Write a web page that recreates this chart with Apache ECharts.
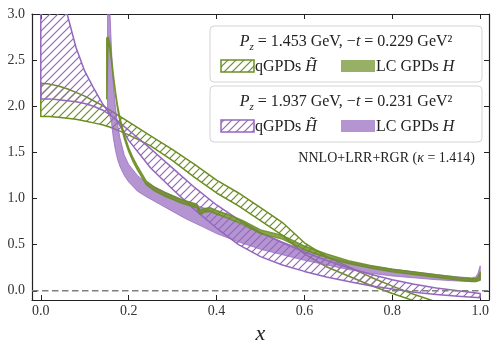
<!DOCTYPE html>
<html>
<head>
<meta charset="utf-8">
<script src="https://cdn.jsdelivr.net/npm/echarts@6/dist/echarts.min.js"></script>
<style>
  html, body { margin: 0; padding: 0; background: #fff; }
  #chart { width: 499px; height: 352px; }
</style>
</head>
<body>
<div id="chart"></div>
<script>
// ticks
const xTicks = [0, 0.2, 0.4, 0.6, 0.8, 1.0]
const yTicks = [0, 0.5, 1.0, 1.5, 2.0, 2.5, 3.0]

// qGPDs Htilde, x grid shared by both momenta
const qX = [0, 0.02, 0.04, 0.06, 0.08, 0.1, 0.12, 0.14, 0.16, 0.17, 0.18, 0.2, 0.25, 0.3, 0.35, 0.4, 0.45, 0.5, 0.55, 0.6, 0.65, 0.7, 0.75, 0.8, 0.85, 0.9, 0.95, 1.0]
// Pz = 1.453 GeV
const qGreenHi = [2.25, 2.24, 2.22, 2.19, 2.15, 2.11, 2.06, 2.01, 1.95, 1.92, 1.89, 1.83, 1.68, 1.53, 1.37, 1.20, 1.06, 0.90, 0.74, 0.52, 0.37, 0.26, 0.15, 0.05, -0.04, -0.12, -0.18, -0.24]
const qGreenLo = [1.89, 1.89, 1.88, 1.87, 1.86, 1.84, 1.82, 1.80, 1.77, 1.75, 1.73, 1.69, 1.57, 1.41, 1.23, 1.06, 0.92, 0.76, 0.60, 0.40, 0.26, 0.16, 0.06, -0.03, -0.11, -0.18, -0.24, -0.30]
// Pz = 1.937 GeV
const qPurpleA = [5.0, 4.1, 3.5, 3.0, 2.64, 2.38, 2.2, 2.03, 1.90, 1.86, 1.79, 1.63, 1.33, 1.10, 0.88, 0.68, 0.50, 0.37, 0.28, 0.21, 0.15, 0.10, 0.055, 0.02, -0.015, -0.04, -0.06, -0.075]
const qPurpleB = [2.08, 2.08, 2.07, 2.06, 2.05, 2.03, 2.0, 1.96, 1.90, 1.86, 1.82, 1.74, 1.54, 1.33, 1.12, 0.93, 0.77, 0.63, 0.52, 0.42, 0.33, 0.25, 0.18, 0.12, 0.07, 0.03, 0.0, -0.03]

// LC GPDs H, Pz = 1.453 GeV
const lcGreenX = [0.150, 0.153, 0.157, 0.161, 0.165, 0.17, 0.175, 0.18, 0.19, 0.2, 0.21, 0.22, 0.24, 0.26, 0.28, 0.3, 0.32, 0.34, 0.355, 0.362, 0.37, 0.385, 0.4, 0.43, 0.46, 0.5, 0.55, 0.6, 0.65, 0.7, 0.75, 0.8, 0.85, 0.9, 0.95, 0.98, 0.99, 0.995, 1.0]
const lcGreenLo = [2.08, 2.69, 2.63, 2.48, 2.31, 2.12, 1.96, 1.84, 1.65, 1.51, 1.40, 1.31, 1.15, 1.08, 1.03, 0.99, 0.95, 0.92, 0.90, 0.83, 0.85, 0.86, 0.83, 0.78, 0.72, 0.62, 0.56, 0.445, 0.36, 0.295, 0.245, 0.205, 0.175, 0.145, 0.115, 0.10, 0.10, 0.11, 0.12]
const lcGreenHi = [2.74, 2.75, 2.69, 2.52, 2.35, 2.16, 2.00, 1.88, 1.69, 1.55, 1.44, 1.35, 1.19, 1.12, 1.07, 1.03, 0.99, 0.96, 0.94, 0.87, 0.89, 0.90, 0.87, 0.82, 0.76, 0.66, 0.60, 0.485, 0.40, 0.325, 0.275, 0.235, 0.205, 0.175, 0.145, 0.13, 0.13, 0.15, 0.20]

// LC GPDs H, Pz = 1.937 GeV
const lcPurpleX = [0.152, 0.155, 0.158, 0.161, 0.165, 0.17, 0.175, 0.18, 0.19, 0.2, 0.22, 0.24, 0.27, 0.3, 0.33, 0.37, 0.4, 0.45, 0.5, 0.55, 0.6, 0.65, 0.7, 0.75, 0.8, 0.85, 0.9, 0.95, 0.98, 0.99, 0.995, 1.0]
const lcPurpleHi = [4.5, 3.4, 2.95, 2.6, 2.25, 1.98, 1.80, 1.66, 1.47, 1.37, 1.25, 1.17, 1.10, 1.03, 0.97, 0.90, 0.84, 0.73, 0.63, 0.53, 0.44, 0.37, 0.31, 0.27, 0.235, 0.205, 0.175, 0.15, 0.14, 0.15, 0.19, 0.27]
const lcPurpleLo = [1.95, 1.92, 1.88, 1.82, 1.66, 1.52, 1.42, 1.35, 1.25, 1.18, 1.08, 1.02, 0.94, 0.86, 0.78, 0.69, 0.62, 0.53, 0.45, 0.39, 0.33, 0.28, 0.23, 0.19, 0.16, 0.14, 0.12, 0.105, 0.10, 0.10, 0.105, 0.11]

const SERIF = '"Liberation Serif", "DejaVu Serif", serif'
const GREEN = '#6b8e23'
const PURPLE = '#9467bd'
const GREEN_FILL = 'rgba(107,142,35,0.7)'
const PURPLE_FILL = 'rgba(148,103,189,0.7)'

function hatchPattern(color) {
  const s = 8
  const c = document.createElement('canvas')
  c.width = s
  c.height = s
  const g = c.getContext('2d')
  g.strokeStyle = color
  g.lineWidth = 1.2
  g.beginPath()
  g.moveTo(0, s); g.lineTo(s, 0)
  g.moveTo(-s / 2, s / 2); g.lineTo(s / 2, -s / 2)
  g.moveTo(s / 2, s * 1.5); g.lineTo(s * 1.5, s / 2)
  g.stroke()
  return { image: c, repeat: 'repeat' }
}

function band(xs, lo, hi, fill, stroke, lw) {
  return {
    type: 'custom',
    coordinateSystem: 'cartesian2d',
    silent: true,
    clip: true,
    data: [[xs[0], lo[0]]],
    renderItem: function(params, api) {
      const pts = []
      for (let i = 0; i < xs.length; i++) pts.push(api.coord([xs[i], lo[i]]))
      for (let i = xs.length - 1; i >= 0; i--) pts.push(api.coord([xs[i], hi[i]]))
      const cs = params.coordSys
      return {
        type: 'polygon',
        shape: { points: pts },
        style: { fill: fill, stroke: stroke, lineWidth: lw, lineJoin: 'round' },
        clipPath: { type: 'rect', shape: { x: cs.x, y: cs.y, width: cs.width, height: cs.height } }
      }
    }
  }
}

const axisColor = '#222'
const tickLabel = { fontFamily: SERIF, fontSize: 14, color: '#333' }

function xAxisOf(pos, showLabel) {
  return {
    type: 'value', min: -0.02, max: 1.02, position: pos,
    axisLine: { show: true, onZero: false, lineStyle: { color: axisColor, width: 1.2 } },
    axisTick: { show: true, inside: true, length: 5, customValues: xTicks, lineStyle: { color: axisColor, width: 1 } },
    axisLabel: Object.assign({ show: showLabel, customValues: xTicks, margin: 4, formatter: v => v.toFixed(1) }, tickLabel),
    splitLine: { show: false }
  }
}
function yAxisOf(pos, showLabel) {
  return {
    type: 'value', min: -0.1, max: 3.0, position: pos,
    axisLine: { show: true, onZero: false, lineStyle: { color: axisColor, width: 1.2 } },
    axisTick: { show: true, inside: true, length: 5, customValues: yTicks, lineStyle: { color: axisColor, width: 1 } },
    axisLabel: Object.assign({ show: showLabel, customValues: yTicks, margin: 7, formatter: v => v.toFixed(1) }, tickLabel),
    splitLine: { show: false }
  }
}

const xBottom = xAxisOf('bottom', true)
xBottom.name = 'x'
xBottom.nameLocation = 'middle'
xBottom.nameGap = 19
xBottom.nameTextStyle = { fontFamily: SERIF, fontStyle: 'italic', fontSize: 22, color: '#222' }

const greenHatch = hatchPattern(GREEN)
const purpleHatch = hatchPattern(PURPLE)

const legendFont = 16
const richText = {
  i: { fontFamily: SERIF, fontStyle: 'italic', fontSize: legendFont, fill: '#222', lineHeight: 22 },
  n: { fontFamily: SERIF, fontSize: legendFont, fill: '#222', lineHeight: 22 },
  s: { fontFamily: SERIF, fontStyle: 'italic', fontSize: 11, fill: '#222', verticalAlign: 'bottom', lineHeight: 22 }
}

function textEl(x, y, text, align) {
  return {
    type: 'text', x: x, y: y, silent: true,
    style: {
      text: text, fontFamily: SERIF, fontSize: legendFont, fill: '#222',
      align: align, textAlign: align, verticalAlign: 'middle', textVerticalAlign: 'middle',
      rich: richText
    }
  }
}

function legendBox(top, ptext, hatchFill, edge, solidFill) {
  return [
    { type: 'rect', silent: true, shape: { x: 210, y: top, width: 272, height: 56, r: 4 },
      style: { fill: 'rgba(255,255,255,0.85)', stroke: '#d4d4d4', lineWidth: 1 } },
    textEl(346, top + 16, ptext, 'center'),
    { type: 'rect', silent: true, shape: { x: 221, y: top + 34, width: 33, height: 12 },
      style: { fill: hatchFill, stroke: edge, lineWidth: 1.5 } },
    textEl(255, top + 40.5, 'qGPDs {i|H̃}', 'left'),
    { type: 'rect', silent: true, shape: { x: 341, y: top + 34, width: 34, height: 12 },
      style: { fill: solidFill } },
    textEl(376, top + 40.5, 'LC GPDs {i|H}', 'left')
  ]
}

const chart = echarts.init(document.getElementById('chart'))
chart.setOption({
  animation: false,
  backgroundColor: '#fff',
  grid: { left: 32, right: 10, top: 14, bottom: 52, containLabel: false, outerBoundsMode: 'none' },
  xAxis: [xBottom, xAxisOf('top', false)],
  yAxis: [yAxisOf('left', true), yAxisOf('right', false)],
  series: [
    {
      type: 'line', silent: true, symbol: 'none',
      data: [[-0.02, 0], [1.02, 0]],
      lineStyle: { color: '#7f7f7f', width: 1.6, type: [6.5, 3.5] }
    },
    band(qX, qGreenLo, qGreenHi, greenHatch, GREEN, 1.5),
    band(qX, qPurpleB, qPurpleA, purpleHatch, PURPLE, 1.5),
    band(lcPurpleX, lcPurpleLo, lcPurpleHi, PURPLE_FILL, 'rgba(148,103,189,0.75)', 1),
    band(lcGreenX, lcGreenLo, lcGreenHi, 'rgba(107,142,35,0.8)', 'rgba(107,142,35,0.9)', 1.4)
  ],
  graphic: [].concat(
    legendBox(26, '{i|P}{s|z}{n| = 1.453 GeV, −}{i|t}{n| = 0.229 GeV²}', greenHatch, GREEN, GREEN_FILL),
    legendBox(86, '{i|P}{s|z}{n| = 1.937 GeV, −}{i|t}{n| = 0.231 GeV²}', purpleHatch, PURPLE, PURPLE_FILL),
    [{
      type: 'text', x: 475, y: 158, silent: true,
      style: {
        text: 'NNLO+LRR+RGR ({i|κ} = 1.414)', fontFamily: SERIF, fontSize: 14, fill: '#222',
        align: 'right', textAlign: 'right', verticalAlign: 'middle', textVerticalAlign: 'middle',
        rich: { i: { fontFamily: SERIF, fontStyle: 'italic', fontSize: 14, fill: '#222' } }
      }
    }]
  )
})
</script>
</body>
</html>
